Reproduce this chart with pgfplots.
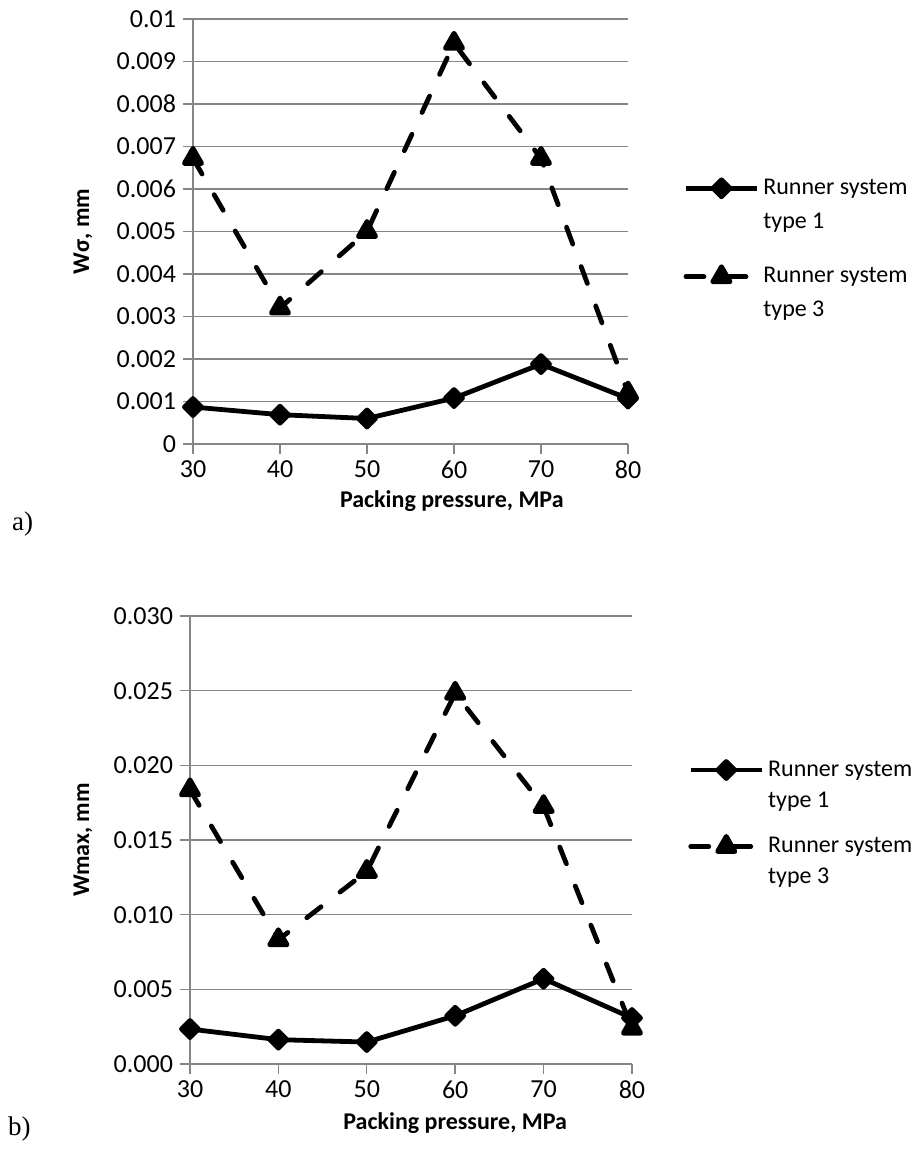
\documentclass[border=0pt]{standalone}
\usepackage{fontspec}
\setmainfont{Carlito}
\newfontfamily\seriffont{Liberation Serif}
\usepackage{pgfplots}
\pgfplotsset{compat=1.18}
\definecolor{gridgray}{RGB}{134,134,134}

\pgfplotsset{
  mystyle/.style={
    scale only axis,
    axis x line=bottom, axis y line=left,
    axis line style={-, gridgray, line width=0.7pt},
    xmin=30, xmax=80, xtick={30,40,50,60,70,80},
    ymajorgrids, grid style={gridgray, line width=0.7pt},
    tick style={gridgray, line width=0.7pt},
    tick align=outside, major tick length=5pt,
    ticklabel style={font=\fontsize{13}{15}\selectfont},
    /pgf/number format/assume math mode=true,
    scaled y ticks=false, clip=false,
    xlabel style={font=\bfseries\fontsize{12}{14}\selectfont, anchor=center},
    ylabel style={font=\bfseries\fontsize{12}{14}\selectfont, anchor=center},
    legend cell align=left,
    legend style={draw=none, fill=none, anchor=north west},
    legend image code/.code={\draw[mark repeat=2,mark phase=2,##1] plot coordinates {(0pt,0pt)(17.75pt,0pt)(35.5pt,0pt)};},
  },
  typeone/.style={black, line width=2.4pt, line join=round, mark=square*, mark size=3pt,
    mark options={rotate=45, solid, fill=black}},
  typethree/.style={black, line width=2.4pt, line cap=round, line join=round,
    dash pattern=on 9pt off 12pt, mark=triangle*, mark size=5pt,
    mark options={solid, fill=black}},
}

\begin{document}
\begin{tikzpicture}
\path[use as bounding box] (0pt,0pt) rectangle (460pt,-575.5pt);

% ---------- a) ----------
\begin{axis}[mystyle,
  at={(96.5pt,-222pt)}, anchor=south west,
  width=217.5pt, height=212.5pt,
  ymin=0, ymax=0.01,
  ytick={0,0.001,0.002,0.003,0.004,0.005,0.006,0.007,0.008,0.009,0.01},
  yticklabels={0,0.001,0.002,0.003,0.004,0.005,0.006,0.007,0.008,0.009,0.01},
  xlabel={Packing pressure, MPa},
  xlabel style={at={(axis description cs:0.595,-0.134)}},
  ylabel={Wσ, mm},
  ylabel style={at={(axis description cs:-0.253,0.5)}},
  legend style={at={(axis description cs:1.113,0.643)},
    font=\fontsize{12}{17}\selectfont, row sep=31pt},
]
\addplot[typeone] coordinates {(30,0.00087) (40,0.00069) (50,0.00060) (60,0.00108) (70,0.00188) (80,0.00107)};
\addlegendentry{\parbox[t]{90pt}{Runner system\\type 1}}
\addplot[typethree] coordinates {(30,0.00672) (40,0.00320) (50,0.00500) (60,0.00943) (70,0.00672) (80,0.00120)};
\addlegendentry{\parbox[t]{90pt}{Runner system\\type 3}}
\end{axis}

% ---------- b) ----------
\begin{axis}[mystyle,
  at={(95pt,-532pt)}, anchor=south west,
  width=221pt, height=224pt,
  ymin=0, ymax=0.03,
  ytick={0,0.005,0.01,0.015,0.02,0.025,0.03},
  yticklabels={0.000,0.005,0.010,0.015,0.020,0.025,0.030},
  xlabel={Packing pressure, MPa},
  xlabel style={at={(axis description cs:0.6,-0.131)}},
  ylabel={Wmax, mm},
  ylabel style={at={(axis description cs:-0.242,0.5)}},
  legend style={at={(axis description cs:1.113,0.6955)},
    font=\fontsize{12}{15.5}\selectfont, row sep=25pt},
]
\addplot[typeone] coordinates {(30,0.00234) (40,0.00163) (50,0.00147) (60,0.00323) (70,0.00571) (80,0.00308)};
\addlegendentry{\parbox[t]{90pt}{Runner system\\type 1}}
\addplot[typethree] coordinates {(30,0.01836) (40,0.00832) (50,0.01290) (60,0.02483) (70,0.01724) (80,0.00240)};
\addlegendentry{\parbox[t]{90pt}{Runner system\\type 3}}
\end{axis}

\node[font=\seriffont\fontsize{13.5}{15}\selectfont, anchor=west] at (2.5pt,-262pt) {a)};
\node[font=\seriffont\fontsize{13.5}{15}\selectfont, anchor=west] at (0.5pt,-564.5pt) {b)};
\end{tikzpicture}
\end{document}
